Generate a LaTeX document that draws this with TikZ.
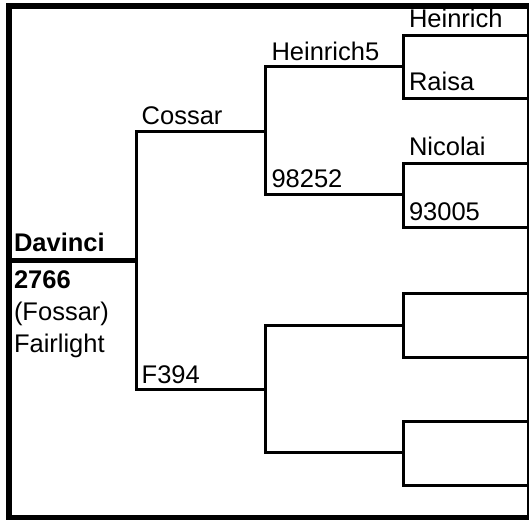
\documentclass[tikz,border=0pt]{standalone}
\usepackage{fontspec}
\setmainfont{Liberation Sans}
\begin{document}
\begin{tikzpicture}[x=1bp,y=-1bp,
  lbl/.style={anchor=base west,inner sep=0pt,outer sep=0pt,font=\fontsize{25.5bp}{32bp}\selectfont},
  blbl/.style={lbl,font=\fontsize{25.5bp}{32bp}\selectfont\bfseries},
  link/.style={line width=3bp,line join=miter},
  rootlink/.style={line width=5.5bp},
  frame/.style={line width=5.5bp}]
\useasboundingbox (0,0) rectangle (529,521);
\fill[white] (0,0) rectangle (529,521);
% frame
\coordinate (ftl) at (9,5.8);
\coordinate (fbr) at (529.6,517.6);
\draw[frame] (ftl) rectangle (fbr);
% root
\coordinate (rootL) at (12,260.5);
\coordinate (rootR) at (138,260.5);
\draw[rootlink] (rootL) -- (rootR);
% level 1 bracket
\coordinate (c1) at (136.5,132);
\coordinate (c1e) at (265.5,132);
\coordinate (f1) at (136.5,389.5);
\coordinate (f1e) at (265.5,389.5);
\draw[link] (c1e) -- (c1) -- (f1) -- (f1e);
% level 2 brackets
\coordinate (h5) at (265.5,66.5);
\coordinate (h5e) at (403,66.5);
\coordinate (n98) at (265.5,194.5);
\coordinate (n98e) at (403,194.5);
\draw[link] (h5e) -- (h5) -- (n98) -- (n98e);
\coordinate (u1) at (265.5,325.7);
\coordinate (u1e) at (403,325.7);
\coordinate (u2) at (265.5,452.7);
\coordinate (u2e) at (403,452.7);
\draw[link] (u1e) -- (u1) -- (u2) -- (u2e);
% level 3 brackets
\foreach \a/\b/\n in {35.5/98.7/p, 164/227/q, 293.5/357.3/r, 421.7/485.3/s}{
  \coordinate (\n t) at (403,\a);
  \coordinate (\n te) at (530,\a);
  \coordinate (\n b) at (403,\b);
  \coordinate (\n be) at (530,\b);
  \draw[link] (\n te) -- (\n t) -- (\n b) -- (\n be);
}
% labels
\node[blbl] (davinci) at (14,251.7) {Davinci};
\node[blbl] (id) at (14,288) {2766};
\node[lbl] (fossar) at (14,320) {(Fossar)};
\node[lbl] (fairlight) at (14,352) {Fairlight};
\node[lbl] (cossar) at (141.7,124.3) {Cossar};
\node[lbl] (f394) at (141.7,383.5) {F394};
\node[lbl] (heinrich5) at (271.5,60.5) {Heinrich5};
\node[lbl] (n98252) at (271.5,187.5) {98252};
\node[lbl] (heinrich) at (409,28) {Heinrich};
\node[lbl] (raisa) at (409,91) {Raisa};
\node[lbl] (nicolai) at (409,156) {Nicolai};
\node[lbl] (n93005) at (409,220) {93005};
\end{tikzpicture}
\end{document}
